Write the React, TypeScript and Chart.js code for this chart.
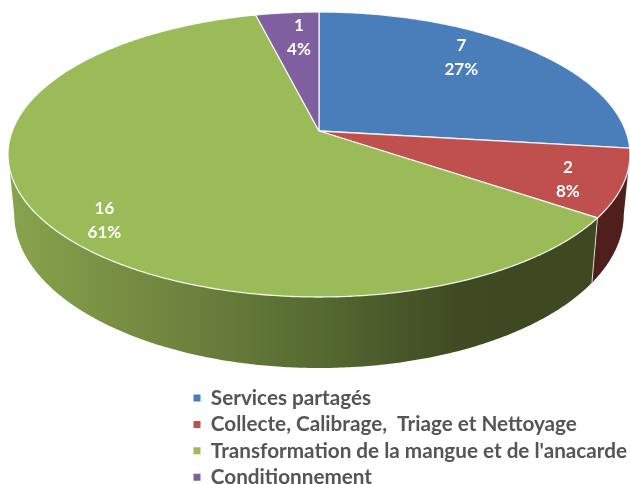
import React, { useEffect, useRef } from "react";
import { Chart, registerables } from "chart.js";

Chart.register(...registerables);

const categories = [
  "Services partagés",
  "Collecte, Calibrage,  Triage et Nettoyage",
  "Transformation de la mangue et de l'anacarde",
  "Conditionnement",
];
const counts = [7, 2, 16, 1];
const percentLabels = ["27%", "8%", "61%", "4%"];
const topColors = ["#4a7ebb", "#c0504d", "#9bbb59", "#7f5f9f"];
const wallColors = ["#2a4565", "#4f1f1e", "#5a6c32", "#44355a"];

// Projection of the tilted disc (perspective homography)
const APEX_X = 319;
const APEX_Y = 131;
const RX = 306.7;
const RY = 138.6;
const PERSP = 0.165;
const LABEL_R = 0.66;
const LABEL_NUDGE = [
  [1, -16.5],
  [52, 15],
  [-37, 34],
  [2, -12],
];
const LABEL_GAP = 24;

function project(theta: number, r = 1) {
  const X = r * Math.sin(theta);
  const Y = -r * Math.cos(theta);
  const D = 1 - PERSP * Y;
  return { x: APEX_X + (RX * X) / D, y: APEX_Y + (RY * Y) / D };
}

function drop(p: { x: number; y: number }) {
  return {
    x: APEX_X + (p.x - APEX_X) * 0.98,
    y: p.y + 60 + 0.0775 * (p.y - 155),
  };
}

const tilted3d = {
  id: "tilted3d",
  afterLayout(chart: any) {
    const lg = chart.legend;
    if (!lg) return;
    lg.left = 187.8;
    lg.right = 630;
    lg.top = 382;
    lg.bottom = 800;
  },
  beforeDatasetsDraw(chart: any) {
    const ctx: CanvasRenderingContext2D = chart.ctx;
    const arcs = chart.getDatasetMeta(0).data;
    const STEP = Math.PI / 360;

    const greenGrad = ctx.createLinearGradient(10, 0, 520, 0);
    greenGrad.addColorStop(0, "#88a34d");
    greenGrad.addColorStop(0.28, "#738840");
    greenGrad.addColorStop(0.6, "#566a32");
    greenGrad.addColorStop(0.88, "#3f4a22");
    greenGrad.addColorStop(1, "#3e4922");

    // visible (front-facing) arc of the outer wall
    const frontStart = Math.acos(-PERSP);
    const frontEnd = 2 * Math.PI - frontStart;

    ctx.save();
    // walls
    arcs.forEach((arc: any, i: number) => {
      const a0 = Math.max(arc.startAngle + Math.PI / 2, frontStart);
      const a1 = Math.min(arc.endAngle + Math.PI / 2, frontEnd);
      if (a1 <= a0) return;
      const top: { x: number; y: number }[] = [];
      for (let t = a0; t < a1; t += STEP) top.push(project(t));
      top.push(project(a1));
      ctx.beginPath();
      top.forEach((p, k) => (k ? ctx.lineTo(p.x, p.y) : ctx.moveTo(p.x, p.y)));
      for (let k = top.length - 1; k >= 0; k--) {
        const b = drop(top[k]);
        ctx.lineTo(b.x, b.y);
      }
      ctx.closePath();
      ctx.fillStyle = i === 2 ? greenGrad : wallColors[i];
      ctx.fill();
    });
    // seam between front walls
    arcs.forEach((arc: any) => {
      const t = arc.endAngle + Math.PI / 2;
      if (-Math.cos(t) > 0.2) {
        const p = project(t);
        const b = drop(p);
        ctx.strokeStyle = "rgba(255,255,255,0.75)";
        ctx.lineWidth = 1;
        ctx.beginPath();
        ctx.moveTo(p.x, p.y);
        ctx.lineTo(b.x, b.y);
        ctx.stroke();
      }
    });
    // top faces
    arcs.forEach((arc: any) => {
      const a0 = arc.startAngle + Math.PI / 2;
      const a1 = arc.endAngle + Math.PI / 2;
      ctx.beginPath();
      ctx.moveTo(APEX_X, APEX_Y);
      for (let t = a0; t < a1; t += STEP) {
        const p = project(t);
        ctx.lineTo(p.x, p.y);
      }
      const e = project(a1);
      ctx.lineTo(e.x, e.y);
      ctx.closePath();
      ctx.fillStyle = arc.options.backgroundColor;
      ctx.fill();
      ctx.strokeStyle = "rgba(255,255,255,0.85)";
      ctx.lineWidth = 1.3;
      ctx.lineJoin = "round";
      ctx.stroke();
    });
    // value labels
    ctx.fillStyle = "#ffffff";
    ctx.font = "bold 17px Lato";
    ctx.textAlign = "center";
    ctx.textBaseline = "middle";
    arcs.forEach((arc: any, i: number) => {
      const mid = (arc.startAngle + arc.endAngle) / 2 + Math.PI / 2;
      const p = project(mid, LABEL_R);
      const x = p.x + LABEL_NUDGE[i][0];
      const y = p.y + LABEL_NUDGE[i][1];
      ctx.fillText(String(counts[i]), x, y - LABEL_GAP / 2);
      ctx.fillText(percentLabels[i], x, y + LABEL_GAP / 2);
    });
    ctx.restore();
    return false;
  },
};

export default function App() {
  const ref = useRef<HTMLCanvasElement>(null);
  useEffect(() => {
    document.body.style.margin = "0";
    document.body.style.background = "#ffffff";
    const chart = new Chart(ref.current!, {
      type: "pie",
      data: {
        labels: categories,
        datasets: [{ data: counts, backgroundColor: topColors, borderWidth: 0 }],
      },
      options: {
        responsive: false,
        animation: false,
        rotation: 0,
        plugins: {
          tooltip: { enabled: false },
          legend: {
            display: true,
            position: "right",
            align: "start",
            labels: {
              boxWidth: 7,
              boxHeight: 7,
              padding: 5.7,
              color: "#555555",
              font: { family: "Lato", weight: "bold", size: 20.7 },
            },
          },
        },
      },
      plugins: [tilted3d],
    } as any);
    return () => chart.destroy();
  }, []);
  return (
    <canvas
      ref={ref}
      width={630}
      height={484}
      style={{ display: "block", width: 630, height: 484, filter: "blur(0.4px)" }}
    />
  );
}
